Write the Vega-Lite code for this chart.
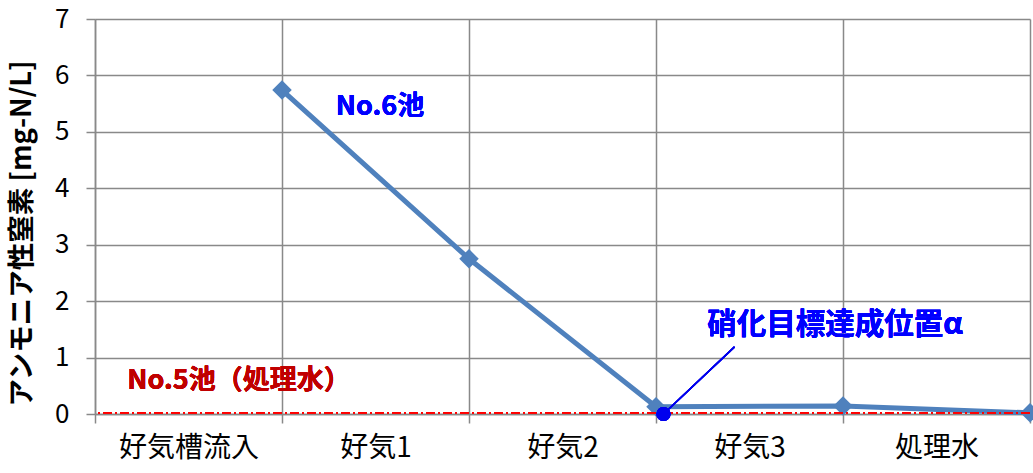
{
  "$schema": "https://vega.github.io/schema/vega-lite/v6.json",
  "width": 935,
  "height": 395,
  "autosize": "none",
  "padding": {"left": 95, "top": 19, "right": 3, "bottom": 59},
  "background": "white",
  "config": {
    "view": {"stroke": null},
    "font": "Noto Sans CJK JP"
  },
  "data": {
    "values": [
      {"position": 1, "nh4n": 5.74},
      {"position": 2, "nh4n": 2.75},
      {"position": 3, "nh4n": 0.13},
      {"position": 4, "nh4n": 0.14},
      {"position": 5, "nh4n": 0.02}
    ]
  },
  "layer": [
    {
      "mark": {
        "type": "line",
        "color": "#4f81bd",
        "strokeWidth": 5,
        "point": {"shape": "diamond", "size": 380, "filled": true, "color": "#4f81bd", "opacity": 1}
      },
      "encoding": {
        "x": {
          "field": "position",
          "type": "quantitative",
          "scale": {"domain": [0, 5], "nice": false, "zero": false},
          "axis": {
            "title": null,
            "values": [0, 0.5, 1, 1.5, 2, 2.5, 3, 3.5, 4, 4.5, 5],
            "labelExpr": "datum.value % 1 === 0.5 ? ['好気槽流入', '好気1', '好気2', '好気3', '処理水'][floor(datum.value)] : ''",
            "labelOverlap": false,
            "labelFlush": false,
            "labelFontSize": 28,
            "labelColor": "#000000",
            "labelPadding": 11,
            "grid": true,
            "gridColor": "#898989",
            "gridWidth": 1.5,
            "gridOpacity": {"condition": {"test": "datum.value % 1 === 0", "value": 1}, "value": 0},
            "tickColor": "#898989",
            "tickWidth": 1.5,
            "tickSize": 9,
            "tickOpacity": {"condition": {"test": "datum.value % 1 === 0", "value": 1}, "value": 0},
            "domainColor": "#898989",
            "domainWidth": 1.5
          }
        },
        "y": {
          "field": "nh4n",
          "type": "quantitative",
          "scale": {"domain": [0, 7], "nice": false},
          "axis": {
            "title": "アンモニア性窒素 [mg-N/L]",
            "titleFontSize": 27.5,
            "titleFontWeight": "bold",
            "titleColor": "#000000",
            "titleAngle": 270,
            "titleAlign": "center",
            "titleBaseline": "middle",
            "titleX": -73,
            "titleY": 214,
            "values": [0, 1, 2, 3, 4, 5, 6, 7],
            "format": "d",
            "labelFontSize": 26,
            "labelColor": "#000000",
            "labelPadding": 17,
            "grid": true,
            "gridColor": "#898989",
            "gridWidth": 1.5,
            "tickColor": "#898989",
            "tickWidth": 1.5,
            "tickSize": 9,
            "domainColor": "#898989",
            "domainWidth": 1.5
          }
        }
      }
    },
    {
      "mark": {"type": "rule", "color": "#ff0000", "strokeWidth": 1.5, "strokeDash": [9, 3, 2, 3]},
      "encoding": {"y": {"datum": 0.02, "type": "quantitative"}}
    },
    {
      "mark": {"type": "rule", "color": "#0000ee", "strokeWidth": 1.5},
      "encoding": {
        "x": {"datum": 3.04, "type": "quantitative"},
        "y": {"datum": 0, "type": "quantitative"},
        "x2": {"datum": 3.42},
        "y2": {"datum": 1.19}
      }
    },
    {
      "mark": {"type": "point", "shape": "circle", "filled": true, "size": 200, "color": "#0000ee", "opacity": 1},
      "encoding": {
        "x": {"datum": 3.04, "type": "quantitative"},
        "y": {"datum": 0, "type": "quantitative"}
      }
    },
    {
      "mark": {"type": "text", "text": "No.6池", "color": "#0000ff", "fontSize": 27, "fontWeight": "bold", "align": "center", "baseline": "middle"},
      "encoding": {
        "x": {"datum": 1.524, "type": "quantitative"},
        "y": {"datum": 5.44, "type": "quantitative"}
      }
    },
    {
      "mark": {"type": "text", "text": "No.5池（処理水）", "color": "#c00000", "fontSize": 27, "fontWeight": "bold", "align": "center", "baseline": "middle"},
      "encoding": {
        "x": {"datum": 0.77, "type": "quantitative"},
        "y": {"datum": 0.585, "type": "quantitative"}
      }
    },
    {
      "mark": {"type": "text", "text": "硝化目標達成位置α", "color": "#0000ff", "fontSize": 29.5, "fontWeight": "bold", "align": "center", "baseline": "middle"},
      "encoding": {
        "x": {"datum": 3.957, "type": "quantitative"},
        "y": {"datum": 1.58, "type": "quantitative"}
      }
    }
  ]
}
